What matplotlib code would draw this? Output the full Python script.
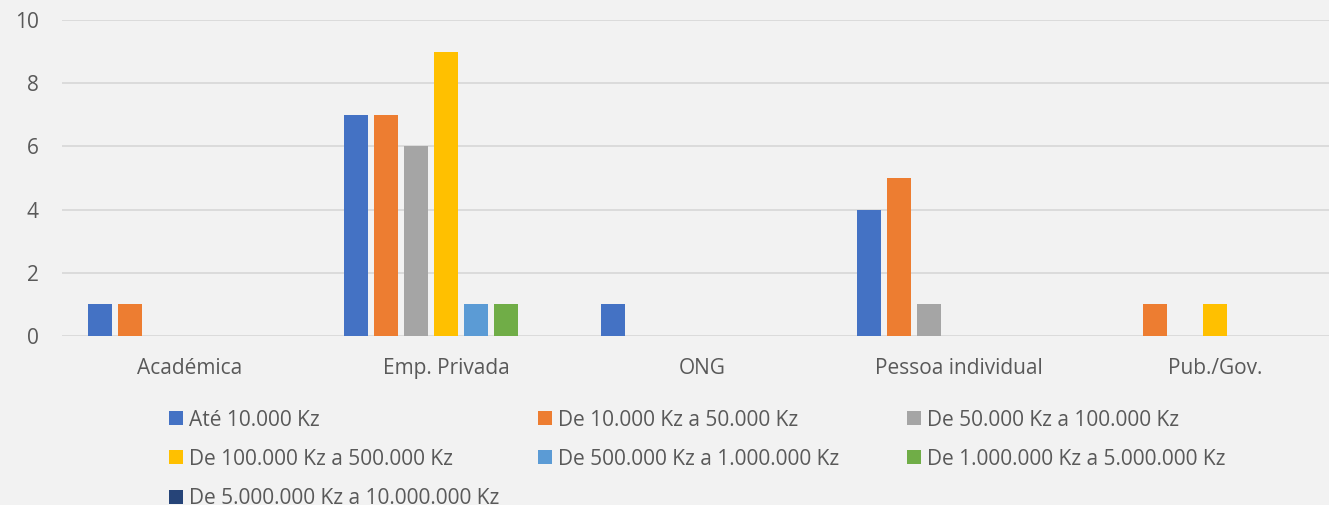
import matplotlib
matplotlib.use("Agg")
import matplotlib.pyplot as plt
import numpy as np

categories = ["Académica", "Emp. Privada", "ONG", "Pessoa individual", "Pub./Gov."]
series_names = [
    "Até 10.000 Kz",
    "De 10.000 Kz a 50.000 Kz",
    "De 50.000 Kz a 100.000 Kz",
    "De 100.000 Kz a 500.000 Kz",
    "De 500.000 Kz a 1.000.000 Kz",
    "De 1.000.000 Kz a 5.000.000 Kz",
    "De 5.000.000 Kz a 10.000.000 Kz",
]
ate_10k = [1, 7, 1, 4, 0]
de_10k_50k = [1, 7, 0, 5, 1]
de_50k_100k = [0, 6, 0, 1, 0]
de_100k_500k = [0, 9, 0, 0, 1]
de_500k_1m = [0, 1, 0, 0, 0]
de_1m_5m = [0, 1, 0, 0, 0]
de_5m_10m = [0, 0, 0, 0, 0]
series_values = [ate_10k, de_10k_50k, de_50k_100k, de_100k_500k, de_500k_1m, de_1m_5m, de_5m_10m]
colors = ["#4472C4", "#ED7D31", "#A5A5A5", "#FFC000", "#5B9BD5", "#70AD47", "#264478"]

plt.rcParams['font.family'] = ['Open Sans', 'DejaVu Sans']
text_color = "#595959"
bg = "#F2F2F2"
fs = 15

W, H = 1329, 505
fig = plt.figure(figsize=(W / 100, H / 100), dpi=100, facecolor=bg)
left_px = 61.9
cat_w = 256.25
right_px = W
ax = fig.add_axes([left_px / W, (H - 336) / H, (right_px - left_px) / W, 316 / H])
ax.set_facecolor(bg)

x = np.arange(len(categories))
step = 30 / cat_w
bw = 24 / cat_w
n = len(series_values)
handles = []
for i, (vals, c, name) in enumerate(zip(series_values, colors, series_names)):
    offs = (i - (n - 1) / 2) * step
    b = ax.bar(x + offs, vals, width=bw, color=c, label=name, zorder=3)
    handles.append(b)

ax.set_xlim(-0.5, -0.5 + (right_px - left_px) / cat_w)
ax.set_ylim(0, 10)
ax.set_yticks(range(0, 11, 2))
ax.set_xticks(x)
ax.set_xticklabels(categories)
ax.yaxis.grid(True, color="#D9D9D9", linewidth=1.3, zorder=0)
ax.set_axisbelow(True)
for s in ax.spines.values():
    s.set_visible(False)
ax.tick_params(axis='both', length=0, labelsize=fs, labelcolor=text_color)
ax.tick_params(axis='y', pad=16.5)
ax.tick_params(axis='x', pad=16)

# legend: three columns, row-major order
col_groups = [[0, 3, 6], [1, 4], [2, 5]]
col_x = [169, 538, 907]
for cols, cx in zip(col_groups, col_x):
    fig.legend([handles[i] for i in cols], [series_names[i] for i in cols],
               loc='upper left', bbox_to_anchor=(cx / W, 1 - 409.5 / H),
               frameon=False, fontsize=fs, labelcolor=text_color,
               handlelength=0.65, handleheight=0.65, handletextpad=0.3,
               labelspacing=0.875, borderaxespad=0, borderpad=0)

fig.savefig("out.png", dpi=100, facecolor=bg)
